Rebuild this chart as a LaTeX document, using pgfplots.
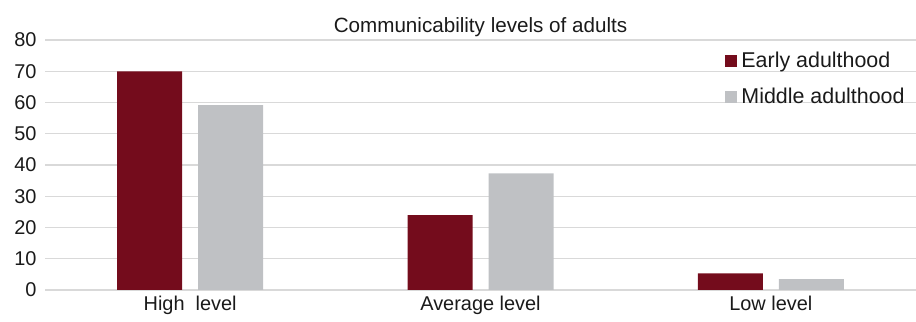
\documentclass[border=0pt]{standalone}
\usepackage{fontspec}
\setmainfont{Liberation Sans}
\usepackage{pgfplots}
\pgfplotsset{compat=1.18}
\definecolor{early}{HTML}{740C1C}
\definecolor{middle}{HTML}{BFC1C4}
\definecolor{gridc}{HTML}{D9D9D9}
\definecolor{txt}{HTML}{1A1A1A}
\begin{document}
\begin{tikzpicture}
\begin{axis}[
  at={(45bp,32bp)}, anchor=south west,
  scale only axis, width=871bp, height=250bp,
  ymin=0, ymax=80, ytick={0,10,...,80},
  xmin=-0.5, xmax=2.5, xtick={0,1,2},
  xticklabels={High\ \ level, Average level, Low level},
  ybar=16bp, bar width=65bp,
  axis lines*=left,
  y axis line style={draw=none},
  x axis line style={draw=gridc, line width=1.3bp},
  major tick length=0pt,
  ymajorgrids, grid style={draw=gridc, line width=1.3bp},
  tick label style={font=\fontsize{20}{22}\selectfont, text=txt},
  yticklabel style={xshift=-5bp},
  xticklabel style={yshift=-3bp},
  /pgf/number format/assume math mode=true,
  title={Communicability levels of adults},
  title style={font=\fontsize{20.7}{22}\selectfont, text=txt, yshift=-6bp},
  legend style={draw=none, fill=none, at={(0.781,0.96)}, anchor=north west,
    font=\fontsize{21.5}{23}\selectfont, text=txt, row sep=15bp, inner sep=0pt,
    nodes={inner xsep=4bp}},
  legend cell align=left,
  legend image code/.code={\fill[#1] (0bp,-6bp) rectangle (12bp,6bp);},
]
\addplot[draw=none, fill=early] coordinates {(0,70) (1,24) (2,5.3)};
\addplot[draw=none, fill=middle] coordinates {(0,59.2) (1,37.3) (2,3.5)};
\legend{Early adulthood, Middle adulthood}
\end{axis}
\pgfresetboundingbox
\path[use as bounding box] (0,0) rectangle (916bp,322bp);
\end{tikzpicture}
\end{document}
